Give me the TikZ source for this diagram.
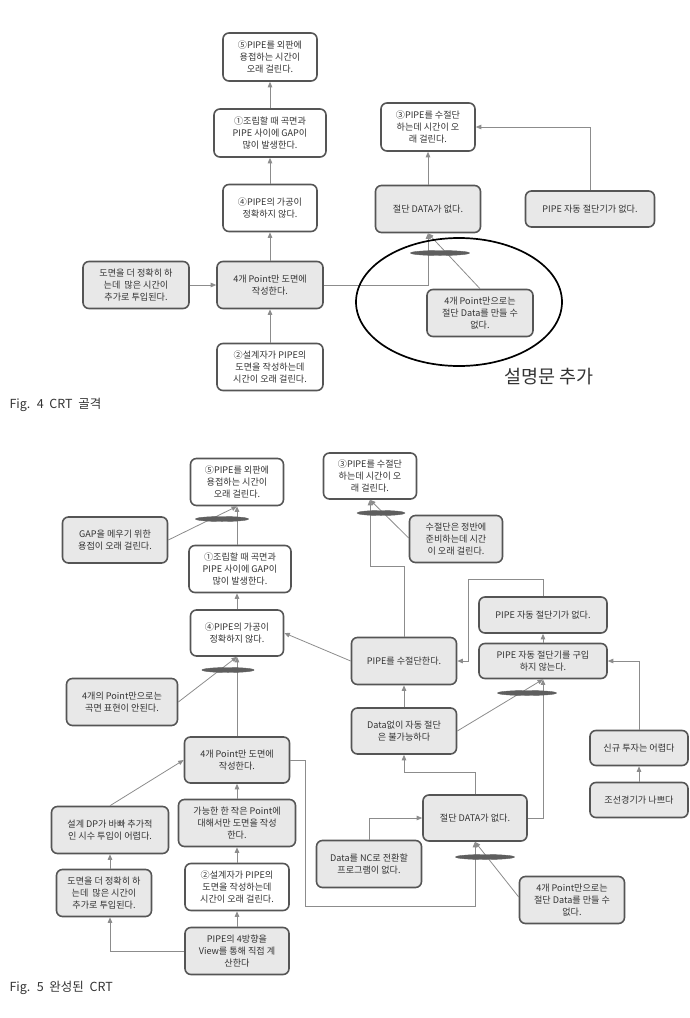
\documentclass[tikz,border=0pt]{standalone}
\usepackage{fontspec}
\setmainfont{Noto Sans CJK KR}
\usetikzlibrary{arrows.meta,shapes.geometric,calc}
\definecolor{boxfill}{HTML}{E8E8E8}
\definecolor{boxline}{HTML}{555555}
\definecolor{linec}{HTML}{8C8C8C}
\definecolor{andc}{HTML}{5E5E5E}
\definecolor{textc}{HTML}{333333}
\begin{document}
\begin{tikzpicture}[x=1pt,y=-1pt,
  base/.style={draw=boxline, line width=1.6pt, rounded corners=6pt, align=center, inner sep=0pt,
    font=\fontsize{9.1}{11.6}\selectfont, text=textc},
  wbox/.style={base, fill=white},
  gbox/.style={base, fill=boxfill},
  conn/.style={draw=linec, line width=0.8pt, -{Triangle[length=5.5pt,width=4.5pt]}},
  andnode/.style={ellipse, fill=andc, draw=andc, line width=0.4pt, minimum width=#1, minimum height=5pt, inner sep=0pt},
  capt/.style={anchor=west, font=\fontsize{12.5}{14}\selectfont, text=textc},
]
\useasboundingbox (0,0) rectangle (689,1018);

% ---------------- Fig. 4 ----------------
\node[wbox, minimum width=94pt, minimum height=48pt] (a5) at (270,57) {⑤PIPE를 외판에\\용접하는 시간이\\오래 걸린다.};
\node[wbox, minimum width=112pt, minimum height=48pt] (a1) at (270,133) {①조립할 때 곡면과\\PIPE 사이에 GAP이\\많이 발생한다.};
\node[wbox, minimum width=94pt, minimum height=47pt] (a4) at (270,208) {④PIPE의 가공이\\정확하지 않다.};
\node[gbox, minimum width=106pt, minimum height=47pt] (adraw) at (136,285) {도면을 더 정확히 하\\는데 \ 많은 시간이\\추가로 투입된다.};
\node[gbox, minimum width=106pt, minimum height=47pt] (a4pt) at (270,285) {4개 Point만 도면에\\작성한다.};
\node[wbox, minimum width=106pt, minimum height=47pt] (a2) at (270,367) {②설계자가 PIPE의\\도면을 작성하는데\\시간이 오래 걸린다.};
\node[wbox, minimum width=94pt, minimum height=48pt] (a3) at (428,127) {③PIPE를 수절단\\하는데 시간이 오\\래 걸린다.};
\node[gbox, minimum width=105pt, minimum height=47pt] (adata) at (428,209) {절단 DATA가 없다.};
\node[gbox, minimum width=129pt, minimum height=36pt] (aauto) at (590,209) {PIPE 자동 절단기가 없다.};
\node[gbox, minimum width=106pt, minimum height=47pt] (a4only) at (480,313) {4개 Point만으로는\\절단 Data를 만들 수\\없다.};

\draw[conn] (a1) -- (a5);
\draw[conn] (a4) -- (a1);
\draw[conn] (a4pt) -- (a4);
\draw[conn] (a2) -- (a4pt);
\draw[conn] (adraw) -- (a4pt);
\draw[conn] (a4pt.east) -| (adata.south);
\draw[conn] (a4only.north) -- (adata.south);
\draw[conn] (adata) -- (a3);
\draw[conn] (aauto.north) |- (a3.east);
\node[andnode=59pt] (aand) at (440,253) {};

\draw[black, line width=1.7pt] (459,302) ellipse [x radius=103pt, y radius=64pt];
\node[font=\fontsize{18.5}{20}\selectfont, text=textc] (addtext) at (549,377) {설명문 추가};
\node[capt] (cap4) at (6,405) {Fig. \ 4 \ CRT \ 골격};

% ---------------- Fig. 5 ----------------
\node[wbox, minimum width=93pt, minimum height=47pt] (b5) at (237,482) {⑤PIPE를 외판에\\용접하는 시간이\\오래 걸린다.};
\node[gbox, minimum width=105pt, minimum height=46pt] (bgap) at (115,540) {GAP을 메우기 위한\\용접이 오래 걸린다.};
\node[wbox, minimum width=102pt, minimum height=47pt] (b1) at (240,569) {①조립할 때 곡면과\\PIPE 사이에 GAP이\\많이 발생한다.};
\node[wbox, minimum width=93pt, minimum height=46pt] (b4) at (237,633) {④PIPE의 가공이\\정확하지 않다.};
\node[gbox, minimum width=111pt, minimum height=47pt] (b4curve) at (122,702) {4개의 Point만으로는\\곡면 표현이 안된다.};
\node[gbox, minimum width=105pt, minimum height=46pt] (b4pt) at (237,760) {4개 Point만 도면에\\작성한다.};
\node[gbox, minimum width=117pt, minimum height=47pt] (bdp) at (110,830) {설계 DP가 바빠 추가적\\인 시수 투입이 어렵다.};
\node[gbox, minimum width=117pt, minimum height=47pt] (bpos) at (237,823) {가능한 한 작은 Point에\\대해서만 도면을 작성\\한다.};
\node[gbox, minimum width=95pt, minimum height=47pt] (bdraw) at (104,893) {도면을 더 정확히 하\\는데 \ 많은 시간이\\추가로 투입된다.};
\node[wbox, minimum width=104pt, minimum height=47pt] (b2) at (237,887) {②설계자가 PIPE의\\도면을 작성하는데\\시간이 오래 걸린다.};
\node[gbox, minimum width=104pt, minimum height=47pt] (bview) at (237,951) {PIPE의 4방향을\\View를 통해 직접 계\\산한다};
\node[wbox, minimum width=93pt, minimum height=46pt] (b3) at (370,476) {③PIPE를 수절단\\하는데 시간이 오\\래 걸린다.};
\node[gbox, minimum width=93pt, minimum height=47pt] (bprep) at (456,539) {수절단은 정반에\\준비하는데 시간\\이 오래 걸린다.};
\node[gbox, minimum width=105pt, minimum height=47pt] (bcut) at (404,661) {PIPE를 수절단한다.};
\node[gbox, minimum width=105pt, minimum height=46pt] (bnodata) at (404,731) {Data없이 자동 절단\\은 불가능하다};
\node[gbox, minimum width=128pt, minimum height=36pt] (bauto) at (543,615) {PIPE 자동 절단기가 없다.};
\node[gbox, minimum width=128pt, minimum height=35pt] (bbuy) at (543,661) {PIPE 자동 절단기를 구입\\하지 않는다.};
\node[gbox, minimum width=98pt, minimum height=35pt] (binv) at (639,748) {신규 투자는 어렵다};
\node[gbox, minimum width=98pt, minimum height=35pt] (becon) at (639,800) {조선경기가 나쁘다};
\node[gbox, minimum width=104pt, minimum height=46pt] (bdata) at (475,818) {절단 DATA가 없다.};
\node[gbox, minimum width=105pt, minimum height=47pt] (bnc) at (369,864) {Data를 NC로 전환할\\프로그램이 없다.};
\node[gbox, minimum width=105pt, minimum height=47pt] (b4only) at (572,900) {4개 Point만으로는\\절단 Data를 만들 수\\없다.};

\draw[conn] (b5.south |- b1.north) -- (b5.south);
\draw[conn] (bgap.east) -- (b5.south);
\draw[conn] (b4.north) -- (b4.north |- b1.south);
\draw[conn] (b4pt) -- (b4);
\draw[conn] (b4curve.east) -- (b4.south);
\draw[conn] (bcut.west) -- (b4.east);
\draw[conn] (bdp.north) -- (b4pt.west);
\draw[conn] (bpos) -- (b4pt);
\draw[conn] (bdp.south |- bdraw.north) -- (bdp.south);
\draw[conn] (b2) -- (bpos);
\draw[conn] (bview) -- (b2);
\draw[conn] (bview.west) -| (bdraw.south -| bdp.south);
\draw[conn] (b4pt.east) -- ++(15,0) |- ($(bdata.south)+(0,65)$) -- (bdata.south);
\draw[conn] ($(b4only.west)+(0,-3)$) -- (bdata.south);
\draw[conn] (bnc.north) |- (bdata.west);
\draw[conn] (bdata.north) -- ++(0,-22) -| (bnodata.south);
\draw[conn] (bdata.east) -| (bbuy.south);
\draw[conn] (bnodata) -- (bcut);
\draw[conn] (bnodata.east) -- (bbuy.south);
\draw[conn] (bbuy) -- (bauto);
\draw[conn] (binv.north) |- (bbuy.east);
\draw[conn] (becon) -- (binv);
\draw[conn] (bauto.north) |- ($(bcut.east)+(11,-82)$) |- (bcut.east);
\draw[conn] (bcut.north) -- ++(0,-70) -| (b3.south);
\draw[conn] ($(bprep.west)+(0,-1)$) -- (b3.south);

\node[andnode=53pt] (band1) at (222,519) {};
\node[andnode=52pt] (band2) at (228,670) {};
\node[andnode=48pt] (band3) at (381,513) {};
\node[andnode=59pt] (band4) at (527,693) {};
\node[andnode=59pt] (band5) at (485,857) {};

\node[capt] (cap5) at (6,988) {Fig. \ 5 \ 완성된 \ CRT};
\end{tikzpicture}
\end{document}
